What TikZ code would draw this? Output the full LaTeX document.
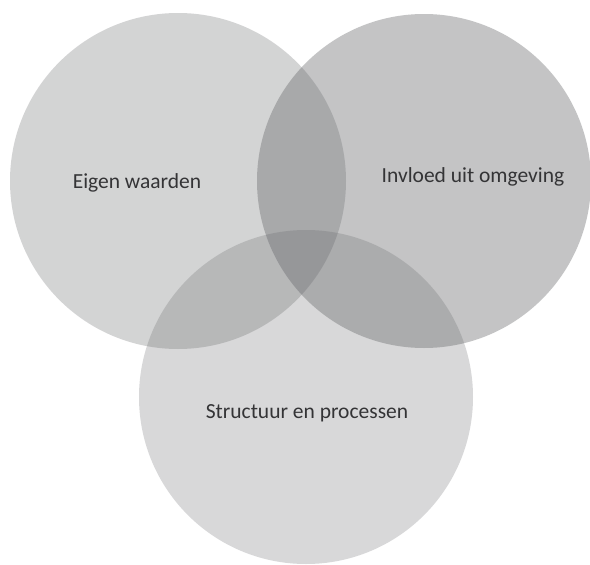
\documentclass[tikz,border=0pt]{standalone}
\usepackage{fontspec}
\setmainfont{Carlito}
\usetikzlibrary{positioning}

\definecolor{vennfill}{RGB}{100,101,104}
\definecolor{venntext}{RGB}{52,52,54}

\begin{document}
\begin{tikzpicture}[
    x=1pt, y=-1pt,
    venn/.style={circle, fill=vennfill, inner sep=0pt},
    label/.style={font=\fontsize{21.5}{24}\selectfont, text=venntext, inner sep=0pt}
]

% Canvas
\useasboundingbox (0,0) rectangle (590,565);
\fill[white] (0,0) rectangle (590,565);

% Circles
\node[venn, fill opacity=0.28, minimum size=336pt] (waarden) at (178,181) {};
\node[venn, fill opacity=0.38, minimum size=334pt] (omgeving) at (424,181) {};
\node[venn, fill opacity=0.25, minimum size=334pt] (processen) at (306,397) {};

% Labels
\node[label] (waardentxt) at (137,183) {Eigen waarden};
\node[label] (omgevingtxt) at (473,177) {Invloed uit omgeving};
\node[label] (processentxt) at (307,413) {Structuur en processen};

\end{tikzpicture}
\end{document}
